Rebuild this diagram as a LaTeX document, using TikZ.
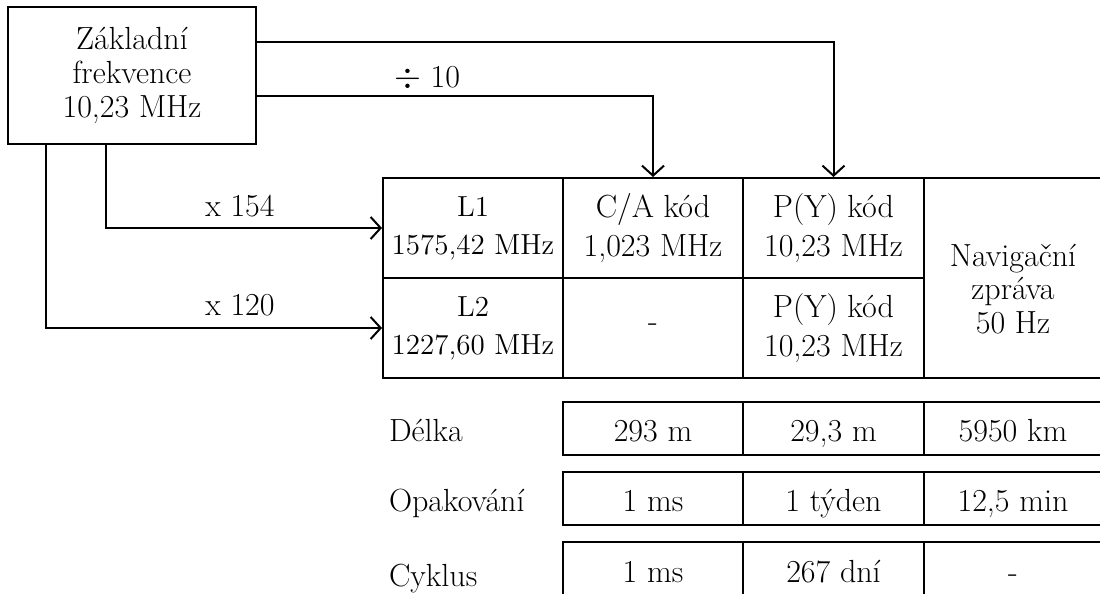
\documentclass[tikz,border=0pt]{standalone}
\usepackage{fontspec}
\usetikzlibrary{arrows.meta}
\begin{document}
\begin{tikzpicture}[x=0.5pt,y=-0.5pt, line width=1pt,
  every node/.style={font=\fontsize{16}{16.8}\selectfont, inner sep=0pt, align=center},
  cell/.style={draw, minimum width=90pt, minimum height=50pt, font=\fontsize{16}{19.5}\selectfont},
  small/.style={font=\fontsize{14.5}{19}\selectfont},
  vcell/.style={draw, minimum width=90pt, minimum height=26.5pt, text height=13.5pt, text depth=0.5pt},
  arr/.style={-{Straight Barb[length=5pt,width=11pt,line width=1pt]}},
  lbl/.style={anchor=west, text height=13.5pt, text depth=0.5pt}]
\useasboundingbox (0,0) rectangle (1100,594);
% source box
\node[draw, minimum width=124pt, minimum height=68.5pt] (base) at (132,75.5) {Základní\\frekvence\\10,23 MHz};
% main table
\node[cell, small] (l1) at (473,228) {L1\\1575,42 MHz};
\node[cell, small] (l2) at (473,328) {L2\\1227,60 MHz};
\node[cell] (ca1) at (653,228) {C/A kód\\1,023 MHz};
\node[cell] (ca2) at (653,328) {-};
\node[cell, minimum width=90.5pt] (py1) at (833.5,228) {P(Y) kód\\10,23 MHz};
\node[cell, minimum width=90.5pt] (py2) at (833.5,328) {P(Y) kód\\10,23 MHz};
\node[draw, minimum width=89pt, minimum height=100pt] (nav) at (1013,278) {};
\node (navt) at ([yshift=-5.5pt]nav.center) {Navigační\\zpráva\\50 Hz};
% lower tables
\node[lbl] (r1) at (388,428.5) {Délka};
\node[vcell] (d1) at (653,428.5) {293 m};
\node[vcell, minimum width=90.5pt] (d2) at (833.5,428.5) {29,3 m};
\node[vcell, minimum width=89pt] (d3) at (1013,428.5) {5950 km};
\node[lbl] (r2) at (388,498.5) {Opakování};
\node[vcell] (o1) at (653,498.5) {1 ms};
\node[vcell, minimum width=90.5pt] (o2) at (833.5,498.5) {1 týden};
\node[vcell, minimum width=89pt] (o3) at (1013,498.5) {12,5 min};
\node[lbl] (r3) at (388,573) {Cyklus};
\node[vcell, minimum height=27pt] (c1) at (653,569) {1 ms};
\node[vcell, minimum width=90.5pt, minimum height=27pt] (c2) at (833.5,569) {267 dní};
\node[vcell, minimum width=89pt, minimum height=27pt] (c3) at (1013,569) {-};
% connectors
\draw[arr] ([yshift=16.75pt]base.east) -| (py1.north);
\draw[arr] ([yshift=-10.25pt]base.east) -| (ca1.north);
\draw[arr] ([xshift=-13pt]base.south) |- (l1.west);
\draw[arr] ([xshift=-43pt]base.south) |- (l2.west);
% labels
\node (div) at (427,78) {$\div$ 10};
\node (m154) at (240,206) {x 154};
\node (m120) at (240,305) {x 120};
\end{tikzpicture}
\end{document}
